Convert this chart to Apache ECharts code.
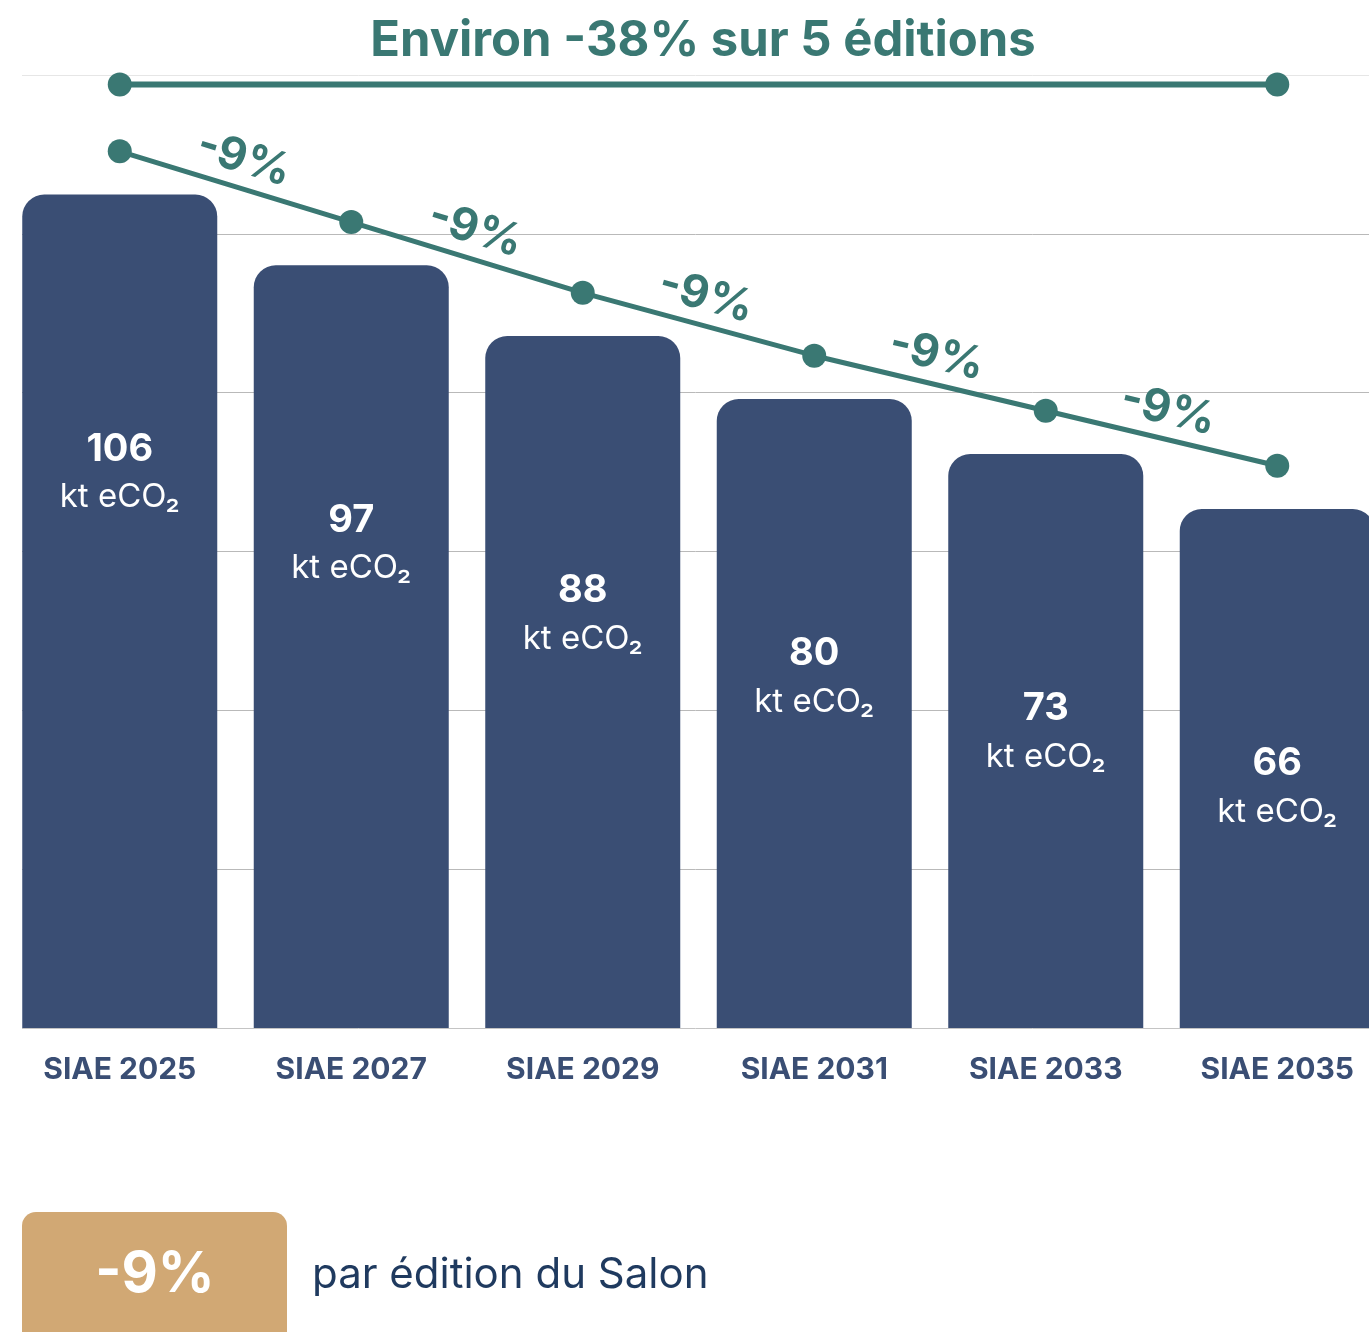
<!DOCTYPE html>
<html>
<head>
<meta charset="utf-8">
<script src="https://cdn.jsdelivr.net/npm/echarts@6/dist/echarts.min.js"></script>
<style>
html,body{margin:0;padding:0;background:#fff;}
#chart{width:1369px;height:1332px;}
</style>
</head>
<body>
<div id="chart"></div>
<script>
// ---- data ----
const categories = ['SIAE 2025', 'SIAE 2027', 'SIAE 2029', 'SIAE 2031', 'SIAE 2033', 'SIAE 2035'];
const emissions = [106, 97, 88, 80, 73, 66];
const unitLabel = 'kt eCO₂';
const stepLabels = ['-9%', '-9%', '-9%', '-9%', '-9%'];
const titleText = 'Environ -38% sur 5 éditions';
const spanLevel = 120;
const legendValue = '-9%';
const legendText = 'par édition du Salon';

// ---- style ----
const FONT = 'Inter, "Open Sans", sans-serif';
const TEAL = '#3a7873';
const NAVY = '#3a4e74';
const TAN = '#d1a874';
const AX_MAX = 121.2, AX_INT = 20.2, LINE_SHIFT = 5.5;

const spanData = categories.map((c, i) => (i === 0 || i === categories.length - 1) ? spanLevel : '-');
const stepLines = stepLabels.map((lab, i) => [
  { coord: [categories[i], emissions[i]], label: { formatter: lab } },
  { coord: [categories[i + 1], emissions[i + 1]] }
]);

const chart = echarts.init(document.getElementById('chart'));
chart.setOption({
  animation: false,
  backgroundColor: '#fff',
  title: {
    text: titleText, left: 698, textAlign: 'center', top: 12,
    textStyle: { fontFamily: FONT, fontWeight: 'bold', fontSize: 49, color: TEAL }
  },
  grid: [
    { left: 22, right: 0, top: 75, bottom: 304, outerBoundsMode: 'none', containLabel: false },
    { left: 4, width: 1389, top: 75, bottom: 304, outerBoundsMode: 'none', containLabel: false }
  ],
  xAxis: [
    { gridIndex: 0, type: 'value', show: false },
    {
      gridIndex: 1, type: 'category', data: categories,
      axisLine: { show: false }, axisTick: { show: false },
      axisLabel: { margin: 27, fontFamily: FONT, fontWeight: 'bold', fontSize: 30, color: NAVY }
    }
  ],
  yAxis: [
    {
      gridIndex: 0, type: 'value', min: 0, max: AX_MAX, interval: AX_INT,
      axisLabel: { show: false }, axisLine: { show: false }, axisTick: { show: false },
      splitLine: { lineStyle: { width: 1, color: ['#c4c4c4', '#b9b9b9', '#b9b9b9', '#b9b9b9', '#b9b9b9', '#b9b9b9', '#e6e6e6'] } }
    },
    { gridIndex: 1, type: 'value', min: 0, max: AX_MAX, show: false, splitLine: { show: false } },
    { gridIndex: 1, type: 'value', min: -LINE_SHIFT, max: AX_MAX - LINE_SHIFT, show: false, splitLine: { show: false } }
  ],
  series: [
    {
      type: 'bar', xAxisIndex: 1, yAxisIndex: 1, data: emissions,
      barWidth: 195,
      itemStyle: { color: NAVY, borderRadius: [22, 22, 0, 0] },
      label: {
        show: true, position: 'insideTop', distance: 230,
        formatter: p => '{v|' + p.value + '}\n{u|' + unitLabel + '}',
        rich: {
          v: { fontFamily: FONT, fontWeight: 'bold', fontSize: 38, color: '#fff', lineHeight: 50 },
          u: { fontFamily: FONT, fontSize: 33, color: '#fff', lineHeight: 46 }
        }
      },
      z: 2
    },
    {
      type: 'line', xAxisIndex: 1, yAxisIndex: 2, data: emissions,
      symbol: 'circle', symbolSize: 24,
      lineStyle: { color: TEAL, width: 5 }, itemStyle: { color: TEAL },
      markLine: {
        silent: true, symbol: 'none',
        lineStyle: { color: 'rgba(0,0,0,0)', width: 0 },
        label: {
          show: true, position: 'middle', distance: 6,
          fontFamily: FONT, fontWeight: 'bold', fontSize: 45, color: TEAL
        },
        data: stepLines
      },
      z: 5
    },
    {
      type: 'line', xAxisIndex: 1, yAxisIndex: 1, data: spanData, connectNulls: true,
      symbol: 'circle', symbolSize: 24,
      lineStyle: { color: TEAL, width: 6 }, itemStyle: { color: TEAL },
      z: 5
    }
  ],
  graphic: [
    { type: 'rect', left: 22, top: 1212, shape: { width: 265, height: 150, r: 14 }, style: { fill: TAN } },
    {
      type: 'text', x: 155, y: 1275,
      style: { text: legendValue, fontFamily: FONT, fontWeight: 'bold', fontSize: 56, fill: '#fff', align: 'center', verticalAlign: 'middle' }
    },
    {
      type: 'text', x: 312, y: 1275,
      style: { text: legendText, fontFamily: FONT, fontSize: 42, fill: '#1f3a5f', align: 'left', verticalAlign: 'middle' }
    }
  ]
});
</script>
</body>
</html>
